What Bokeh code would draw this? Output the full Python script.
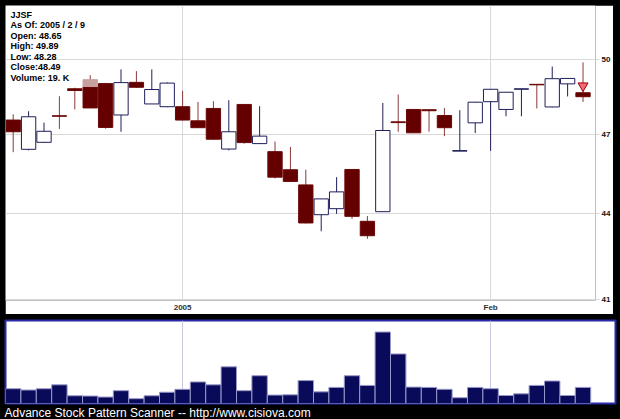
from bokeh.plotting import figure
from bokeh.layouts import column
from bokeh.models import ColumnDataSource, FixedTicker, Range1d, Label, NumeralTickFormatter, Title
from bokeh.embed import file_html
from bokeh.resources import INLINE

# ---------------- data ----------------
ticker = "JJSF"
as_of = "2005 / 2 / 9"
opens = [47.56, 46.42, 46.69, 47.73, 48.81, 48.90, 49.02, 47.76, 49.07, 48.20,
         48.09, 48.09, 47.53, 48.02, 46.43, 48.18, 46.64, 46.33, 45.64, 45.07,
         43.97, 44.19, 45.65, 43.73, 44.08, 47.49, 47.98, 47.97, 47.74, 46.35,
         47.45, 48.29, 47.98, 48.79, 48.99, 48.08, 49.01, 48.65]
highs = [47.79, 47.91, 47.46, 48.51, 48.85, 49.36, 49.05, 49.60, 49.53, 49.60,
         49.07, 48.72, 48.28, 48.31, 48.35, 48.18, 48.11, 46.72, 46.51, 45.64,
         44.55, 45.36, 45.67, 43.92, 48.24, 48.58, 47.99, 47.98, 48.04, 47.95,
         48.28, 48.80, 48.68, 48.81, 48.99, 49.72, 49.24, 49.89]
lows = [46.31, 46.38, 46.67, 47.21, 47.98, 48.04, 47.22, 47.10, 48.85, 48.20,
        48.07, 47.54, 47.26, 46.79, 46.38, 46.64, 46.64, 45.31, 45.18, 43.65,
        43.37, 44.00, 43.82, 43.10, 44.08, 47.10, 47.05, 47.10, 46.93, 46.35,
        47.05, 46.36, 47.71, 47.71, 48.02, 48.06, 48.50, 48.28]
closes = [47.10, 47.69, 47.12, 47.71, 48.74, 48.04, 47.27, 49.06, 48.87, 48.78,
          49.04, 47.56, 47.26, 46.81, 47.10, 46.68, 46.93, 45.36, 45.20, 43.67,
          44.55, 44.81, 43.91, 43.21, 47.15, 47.46, 47.06, 47.93, 47.26, 46.37,
          48.27, 48.79, 48.67, 48.81, 48.97, 49.22, 49.23, 48.49]
volumes_k = [17.4, 15.9, 17.4, 22.0, 9.1, 8.8, 7.6, 15.1, 5.7, 9.1,
             13.3, 16.7, 25.4, 22.0, 43.2, 15.1, 32.7, 9.9, 10.2, 27.0,
             13.7, 19.0, 32.7, 21.3, 84.2, 58.4, 19.3, 19.0, 16.7, 6.8,
             19.0, 17.4, 9.4, 11.4, 21.3, 26.5, 9.4, 19.0]
x_tick_pos = [11, 31]
x_tick_labels = ["2005", "Feb"]
price_ticks = [41, 44, 47, 50]
highlight_idx = [5]
highlight_top = [49.18]
highlight_bottom = [48.90]
signal_idx = [37]
signal_price = [48.93]
footer = "Advance Stock Pattern Scanner -- http://www.cisiova.com"

# ---------------- styles ----------------
MAROON = "#650000"
BEAR_WICK = "#8a3a3a"
NAVY = "#1e1e5a"
VOL_FILL = "#0a0a5a"
VOL_EDGE = "#9898c8"
GRID = "#d9d9d9"

n = len(opens)
idx = list(range(n))
bull = [c >= o for o, c in zip(opens, closes)]
src = ColumnDataSource(dict(
    x=idx,
    high=highs,
    low=lows,
    top=[max(o, c) for o, c in zip(opens, closes)],
    bottom=[min(o, c) for o, c in zip(opens, closes)],
    fill=["#ffffff" if b else MAROON for b in bull],
    edge=[NAVY if b else "#6a0808" for b in bull],
    wick=[NAVY if b else BEAR_WICK for b in bull],
))

FRAME_H = 295
p = figure(width=608, height=309, y_axis_type="log", y_axis_location="right",
           x_range=Range1d(-0.5, 37.81), y_range=Range1d(40.95, 52.3),
           output_backend="svg", toolbar_location=None,
           min_border_left=0, min_border_top=0, min_border_right=18, min_border_bottom=14,
           background_fill_color="white", border_fill_color="white")
p.margin = (5, 7, 0, 5)
p.frame_align = False
p.outline_line_color = None

p.segment(x0="x", y0="low", x1="x", y1="high", source=src, line_color="wick", line_width=1)
p.vbar(x="x", width=0.93, top="top", bottom="bottom", source=src,
       fill_color="fill", line_color="edge", line_width=1)
p.vbar(x=highlight_idx, width=0.93, top=highlight_top, bottom=highlight_bottom,
       fill_color="#c9a0a0", line_color="#c9a0a0")
p.scatter(x=signal_idx, y=signal_price, marker="inverted_triangle", size=10,
          fill_color="#f06a7a", line_color="#a00000", line_width=1)

# axes
p.xaxis.ticker = FixedTicker(ticks=x_tick_pos)
p.xaxis.major_label_overrides = {t: l for t, l in zip(x_tick_pos, x_tick_labels)}
p.xaxis.axis_line_color = None
p.xaxis.major_tick_line_color = None
p.xaxis.major_tick_out = 0
p.xaxis.major_tick_in = 0
p.xaxis.minor_tick_line_color = None
p.xaxis.minor_tick_out = 0
p.xaxis.major_label_standoff = 2
p.xaxis.major_label_text_font = "Liberation Sans"
p.xaxis.major_label_text_font_style = "bold"
p.xaxis.major_label_text_font_size = "8px"
p.xaxis.major_label_text_color = "#333333"

p.yaxis.ticker = FixedTicker(ticks=price_ticks)
p.yaxis.formatter = NumeralTickFormatter(format="0")
p.yaxis.axis_line_color = None
p.yaxis.major_tick_line_color = GRID
p.yaxis.major_tick_in = 0
p.yaxis.major_tick_out = 4
p.yaxis.minor_tick_line_color = None
p.yaxis.minor_tick_out = 0
p.yaxis.major_label_standoff = 2
p.yaxis.major_label_text_font = "Liberation Sans"
p.yaxis.major_label_text_font_style = "bold"
p.yaxis.major_label_text_font_size = "8px"
p.yaxis.major_label_text_color = "#111111"

p.xgrid.grid_line_color = GRID
p.ygrid.grid_line_color = GRID

# info text
info = [ticker,
        f"As Of: {as_of}",
        f"Open: {opens[-1]:.2f}",
        f"High: {highs[-1]:.2f}",
        f"Low: {lows[-1]:.2f}",
        f"Close:{closes[-1]:.2f}",
        f"Volume: {volumes_k[-1]:.0f}. K"]
for k, t in enumerate(info):
    p.add_layout(Label(x=5, y=FRAME_H - 9.3 - 10.5 * k, x_units="screen", y_units="screen",
                       text=t, text_font="Liberation Sans", text_font_style="bold",
                       text_font_size="9px", text_color="#000000", text_baseline="middle"))

# ---------------- volume ----------------
v = figure(width=620, height=105, x_range=Range1d(-0.5, 39.11), y_range=Range1d(0, 97.8),
           output_backend="svg", toolbar_location=None,
           min_border_left=5, min_border_right=5, min_border_top=6, min_border_bottom=0,
           background_fill_color="white", border_fill_color="black")
v.frame_align = False
v.outline_line_color = "#2a2aa8"
v.outline_line_width = 2
v.vbar(x=idx, width=1.0, top=volumes_k, bottom=0, fill_color=VOL_FILL,
       line_color=VOL_EDGE, line_width=1)
v.xaxis.ticker = FixedTicker(ticks=x_tick_pos)
v.xaxis.visible = False
v.yaxis.visible = False
v.xgrid.grid_line_color = "#c8c8e0"
v.ygrid.grid_line_color = None
v.add_layout(Title(text=footer, align="left", offset=-1, standoff=0,
                   text_font="Liberation Sans", text_font_size="12px",
                   text_font_style="normal", text_color="#ffffff"), "below")

layout = column(p, v, spacing=0, styles={"background-color": "black"})
open("out.html", "w").write(file_html(layout, INLINE))
